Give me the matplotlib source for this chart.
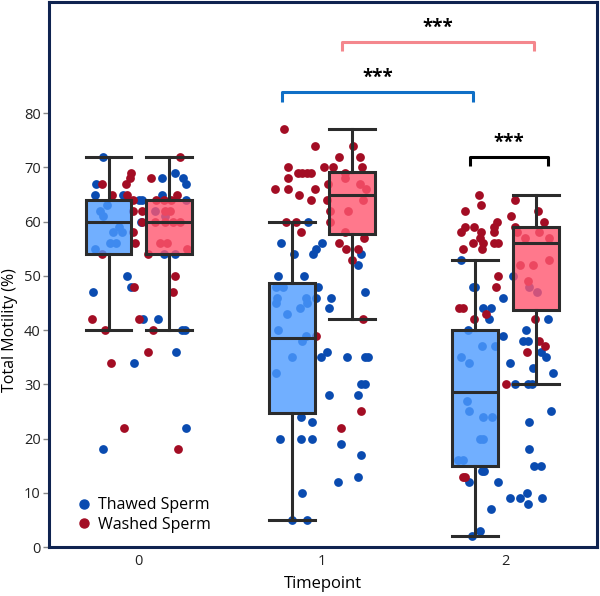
import matplotlib
matplotlib.use("Agg")
import matplotlib.pyplot as plt
from matplotlib.lines import Line2D
from matplotlib.colors import to_rgba

plt.rcParams['font.family'] = ['Open Sans', 'DejaVu Sans']

timepoints = ["0", "1", "2"]
groups = ["Thawed Sperm", "Washed Sperm"]

# box statistics: (whislo, q1, median, q3, whishi)
thawed_box = [(40, 54, 60, 64, 72), (5, 24.7, 38.5, 48.7, 60), (2, 15, 28.5, 40, 53)]
washed_box = [(40, 54, 60, 64, 72), (42, 57.8, 65, 69.2, 77), (30, 43.7, 56, 59, 65)]

# individual observations (values) and their horizontal jitter (category units)
thawed_t0 = [72, 67, 65, 65, 64, 64, 62, 61, 58, 59, 58, 56, 56, 55, 60, 50, 48, 47,
             68, 69, 68, 67, 65, 64, 54, 54, 42, 42, 40, 40, 36, 34, 22, 18, 62, 61, 63]
thawed_t0_j = [-0.195, -0.234, -0.238, -0.086, 0.002, 0.02, -0.213, -0.198, -0.14, -0.107,
               -0.094, -0.158, -0.122, -0.24, 0.011, -0.067, -0.04, -0.249, 0.129, 0.196,
               0.241, 0.26, 0.124, 0.26, 0.14, 0.196, 0.023, 0.102, 0.233, 0.251, 0.205,
               -0.027, 0.256, -0.195, 0.087, 0.142, -0.174]
washed_t0 = [72, 69, 68, 68, 67, 67, 65, 65, 65, 64, 64, 64, 64, 62, 62, 60, 58, 56, 54, 54,
             50, 48, 47, 42, 42, 40, 40, 36, 34, 22, 18, 62, 62, 60, 60, 60, 60, 56, 56, 55]
washed_t0_j = [0.223, -0.044, -0.049, 0.069, -0.2, -0.072, -0.149, -0.067, 0.207, -0.031,
               0.093, 0.138, 0.178, -0.031, 0.02, 0.02, -0.031, -0.022, -0.203, 0.051,
               0.2, -0.027, 0.184, -0.258, 0.002, -0.185, 0.078, 0.049, -0.154, -0.08,
               0.214, 0.142, 0.169, 0.087, 0.142, 0.185, 0.223, 0.114, 0.153, 0.262]

thawed_t1 = [60, 56, 56, 55, 54, 54, 54, 52, 50, 50, 48, 48, 48, 46, 46, 46, 46, 47, 45, 45,
             44, 44, 43, 40, 39, 38, 36, 35, 35, 35, 35, 35, 32, 30, 30, 28, 28, 24, 23, 20,
             20, 20, 19, 17, 13, 12, 10, 5, 5]
thawed_t1_j = [-0.076, -0.225, -0.002, -0.031, -0.156, -0.049, 0.211, 0.196, -0.238, -0.098,
               -0.022, -0.252, -0.211, -0.244, -0.034, 0.047, -0.089, 0.234, -0.252, -0.08,
               0.038, -0.12, -0.192, -0.238, -0.089, -0.107, 0.029, -0.007, 0.138, 0.234,
               0.252, -0.162, -0.252, 0.211, 0.234, 0.038, 0.196, -0.113, -0.053, -0.231,
               -0.116, -0.056, 0.102, 0.211, 0.196, 0.086, -0.111, -0.162, -0.083]
washed_t1 = [77, 74, 74, 72, 72, 70, 70, 70, 70, 69, 69, 69, 69, 69, 68, 66, 66, 66, 67, 65,
             64, 64, 62, 60, 60, 60, 58, 58, 55, 53, 42, 39, 25, 22, 68, 67, 66, 64, 62, 56,
             55, 57]
washed_t1_j = [-0.207, -0.038, 0.169, 0.093, 0.205, -0.184, 0.011, 0.06, 0.22, -0.129,
               -0.107, -0.08, -0.062, 0.125, -0.184, -0.258, -0.187, -0.038, 0.034, -0.125,
               -0.062, 0.029, 0.042, -0.198, -0.143, 0.042, -0.116, 0.125, 0.198, 0.162,
               0.225, -0.034, 0.211, 0.105, 0.125, 0.207, 0.24, 0.223, 0.142, 0.093,
               0.131, 0.229]

thawed_t2 = [53, 48, 48, 50, 46, 48, 47, 44, 44, 42, 42, 40, 39, 40, 38, 38, 37, 37, 36, 35,
             35, 34, 34, 33, 32, 30, 30, 30, 27, 25, 25, 24, 24, 23, 20, 20, 18, 16, 16, 15,
             15, 14, 14, 12, 12, 10, 9, 9, 9, 8, 7, 3, 2]
thawed_t2_j = [-0.241, -0.178, -0.163, 0.044, -0.015, 0.127, 0.171, -0.124, -0.078, -0.091,
               0.231, -0.205, -0.015, 0.113, 0.094, 0.122, -0.127, -0.054, 0.195, 0.222,
               -0.241, -0.196, 0.027, 0.153, 0.258, 0.054, 0.122, 0.146, -0.211, -0.2,
               0.249, -0.12, -0.072, 0.131, -0.138, -0.12, 0.131, -0.26, -0.233, 0.154,
               0.196, -0.127, -0.114, -0.196, -0.04, 0.12, 0.027, 0.082, 0.198, 0.125,
               -0.078, -0.136, -0.184]
washed_t2 = [65, 63, 64, 62, 62, 61, 60, 60, 59, 59, 59, 59, 58, 58, 58, 57, 56, 56, 56, 56,
             55, 55, 58, 58, 57, 57, 53, 52, 52, 49, 50, 48, 44, 44, 43, 42, 42, 38, 37, 36,
             30, 13, 13]
washed_t2_j = [-0.146, -0.131, 0.051, -0.222, 0.178, 0.033, -0.044, 0.213, -0.222, -0.173,
               -0.064, 0.054, -0.241, -0.132, -0.06, -0.138, -0.178, -0.124, -0.064, -0.042,
               -0.229, -0.127, 0.062, 0.185, 0.109, 0.24, 0.236, 0.08, 0.153, 0.125,
               -0.041, -0.05, -0.251, -0.233, -0.105, -0.173, 0.16, 0.185, 0.214, 0.116,
               0.004, -0.229, -0.218]

# significance brackets: (x_start, x_end, y, label, colour)
brackets = [(1.11, 2.154, 93.2, "***", "#f4878d"),
            (0.781, 1.822, 83.9, "***", "#0f6fc6"),
            (1.809, 2.233, 72.0, "***", "#000000")]

thawed_pts = [(thawed_t0, thawed_t0_j), (thawed_t1, thawed_t1_j), (thawed_t2, thawed_t2_j)]
washed_pts = [(washed_t0, washed_t0_j), (washed_t1, washed_t1_j), (washed_t2, washed_t2_j)]

blue_pt = "#0a4bb0"
red_pt = "#a30d24"
edge = "#2b2b2b"

fig = plt.figure(figsize=(6.0, 5.96), dpi=100)
ax = fig.add_axes([0.0817, 0.0822, 0.9133, 0.9144])

for i in range(len(timepoints)):
    vals, jit = thawed_pts[i]
    ax.scatter([i + j for j in jit], vals, s=40, color=blue_pt, zorder=2, linewidths=0)
    vals, jit = washed_pts[i]
    ax.scatter([i + j for j in jit], vals, s=40, color=red_pt, zorder=2, linewidths=0)

def stats_list(boxes):
    out = []
    for b in boxes:
        out.append(dict(whislo=b[0], q1=b[1], med=b[2], q3=b[3], whishi=b[4], fliers=[]))
    return out

off = 0.165
bw = 0.25
for boxes, sign, fc in [(thawed_box, -1, "#4d9bff"), (washed_box, 1, "#ff5670")]:
    pos = [i + sign * off for i in range(len(timepoints))]
    ax.bxp(stats_list(boxes), positions=pos, widths=bw, capwidths=bw, patch_artist=True,
           showfliers=False, manage_ticks=False, zorder=3,
           boxprops=dict(facecolor=to_rgba(fc, 0.8), edgecolor=edge, linewidth=2.2),
           medianprops=dict(color=edge, linewidth=2.2),
           whiskerprops=dict(color=edge, linewidth=2.2),
           capprops=dict(color=edge, linewidth=2.2))

for (x0, x1, y, lab, col) in brackets:
    h = 1.8
    ax.plot([x0, x0, x1, x1], [y - h, y, y, y - h], color=col, lw=2.2,
            solid_joinstyle='round', solid_capstyle='butt', zorder=4)
    ax.text((x0 + x1) / 2, y + 0.7, lab, ha='center', va='bottom', fontsize=13.5,
            fontweight='bold', color='black')

ax.set_xlim(-0.49, 2.5)
ax.set_ylim(0, 100.5)
ax.set_xticks(range(len(timepoints)))
ax.set_xticklabels(timepoints)
ax.set_yticks(range(0, 81, 10))
ax.tick_params(axis='x', length=0, labelsize=10.5, pad=5, colors='#222222')
ax.tick_params(axis='y', length=4, width=1, color='#888888', labelsize=10.5,
               labelcolor='#222222', pad=2)
for sp in ax.spines.values():
    sp.set_color("#0f2350")
    sp.set_linewidth(2.2)

ax.set_xlabel("Timepoint", fontsize=12, labelpad=5)
ax.set_ylabel("Total Motility (%)", fontsize=11.5)
ax.yaxis.set_label_coords(-0.056, 40 / 100.5)

handles = [Line2D([], [], marker='o', linestyle='', color=blue_pt, markersize=6.5),
           Line2D([], [], marker='o', linestyle='', color=red_pt, markersize=6.5)]
ax.legend(handles, groups, loc='lower left', bbox_to_anchor=(0.02, 0.0), frameon=False,
          fontsize=11.5, handletextpad=0.3, labelspacing=0.2, handlelength=1.2)

fig.savefig("out.png", dpi=100)
